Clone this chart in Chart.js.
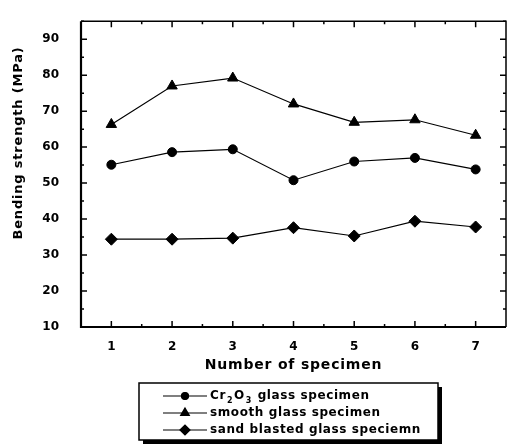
<!DOCTYPE html>
<html lang="en">
<head>
    <meta charset="UTF-8">
    <title>Bending strength</title>
    <script src="https://cdn.jsdelivr.net/npm/chart.js"></script>
    <style>
        body { margin: 0; background: #fff; }
    </style>
</head>
<body>
    <canvas id="myChart" width="513" height="445"></canvas>

    <script>
        const specimens = ['1', '2', '3', '4', '5', '6', '7'];
        const yTicks = [10, 20, 30, 40, 50, 60, 70, 80, 90];

        const cr2o3Values = [55.1, 58.6, 59.4, 50.8, 56.0, 57.0, 53.8];
        const smoothValues = [66.3, 77.0, 79.2, 72.0, 66.9, 67.6, 63.3];
        const sandValues = [34.4, 34.4, 34.7, 37.6, 35.3, 39.4, 37.8];

        const seriesNames = ['Cr₂O₃ glass specimen', 'smooth glass specimen', 'sand blasted glass speciemn'];
        const seriesStyles = ['circle', 'triangle', 'rectRot'];

        const font = 'DejaVu Sans';

        // text with subscript digits (₀-₉)
        function drawRichText(ctx, text, x, y, size) {
            let cx = x;
            for (const ch of text) {
                const code = ch.charCodeAt(0);
                if (code >= 0x2080 && code <= 0x2089) {
                    ctx.font = 'bold ' + Math.round(size * 0.7) + 'px "' + font + '"';
                    const d = String(code - 0x2080);
                    ctx.fillText(d, cx + 1, y + size * 0.4);
                    cx += ctx.measureText(d).width + 2.5;
                } else {
                    ctx.font = 'bold ' + size + 'px "' + font + '"';
                    ctx.fillText(ch, cx, y);
                    cx += ctx.measureText(ch).width + 0.6;
                }
            }
        }

        const framePlugin = {
            id: 'frame',
            afterDraw(chart) {
                const ctx = chart.ctx;
                const a = chart.chartArea;
                const xs = chart.scales.x;
                const ys = chart.scales.y;
                ctx.save();
                ctx.strokeStyle = '#000';

                // frame
                ctx.lineWidth = 1.5;
                ctx.beginPath();
                ctx.moveTo(a.left, a.top);
                ctx.lineTo(a.right, a.top);
                ctx.lineTo(a.right, a.bottom);
                ctx.stroke();
                ctx.lineWidth = 2.2;
                ctx.beginPath();
                ctx.moveTo(a.left, a.top);
                ctx.lineTo(a.left, a.bottom);
                ctx.lineTo(a.right, a.bottom);
                ctx.stroke();

                // inward ticks on all sides
                ctx.lineWidth = 1.5;
                ctx.beginPath();
                for (let i = 0; i < specimens.length; i++) {
                    const px = xs.getPixelForValue(i);
                    ctx.moveTo(px, a.bottom); ctx.lineTo(px, a.bottom - 6);
                    ctx.moveTo(px, a.top); ctx.lineTo(px, a.top + 6);
                    if (i < specimens.length - 1) {
                        const mx = xs.getPixelForValue(i + 0.5);
                        ctx.moveTo(mx, a.bottom); ctx.lineTo(mx, a.bottom - 3);
                        ctx.moveTo(mx, a.top); ctx.lineTo(mx, a.top + 3);
                    }
                }
                for (let v = 10; v <= 95; v += 5) {
                    const py = ys.getPixelForValue(v);
                    const len = v % 10 === 0 ? 6 : 3;
                    ctx.moveTo(a.left, py); ctx.lineTo(a.left + len, py);
                    ctx.moveTo(a.right, py); ctx.lineTo(a.right - len, py);
                }
                ctx.stroke();

                // axis titles
                ctx.fillStyle = '#000';
                ctx.textAlign = 'center';
                ctx.textBaseline = 'middle';
                ctx.letterSpacing = '0.8px';
                ctx.font = 'bold 13px "' + font + '"';
                ctx.save();
                ctx.translate(19, 143);
                ctx.rotate(-Math.PI / 2);
                ctx.fillText('Bending strength (MPa)', 0, 0);
                ctx.restore();
                ctx.letterSpacing = '0.8px';
                ctx.font = 'bold 14px "' + font + '"';
                ctx.fillText('Number of specimen', (a.left + a.right) / 2, 365);
                ctx.letterSpacing = '0px';

                // legend box
                const bx = 139, by = 383, bw = 299, bh = 57;
                ctx.fillRect(bx + 4, by + 4, bw, bh);
                ctx.fillStyle = '#fff';
                ctx.fillRect(bx, by, bw, bh);
                ctx.lineWidth = 1.5;
                ctx.strokeRect(bx, by, bw, bh);

                ctx.textAlign = 'left';
                ctx.fillStyle = '#000';
                chart.data.datasets.forEach((ds, i) => {
                    const ry = by + 13 + i * 17;
                    ctx.lineWidth = 1.2;
                    ctx.beginPath();
                    ctx.moveTo(163, ry);
                    ctx.lineTo(207, ry);
                    ctx.stroke();
                    Chart.helpers.drawPoint(ctx, {
                        pointStyle: ds.pointStyle,
                        radius: ds.pointRadius - 1,
                        borderWidth: 1
                    }, 185, ry);
                    ctx.fillStyle = '#000';
                    ctx.fill();
                    drawRichText(ctx, ds.label, 210, ry, 12);
                });
                ctx.restore();
            }
        };

        const ctx = document.getElementById('myChart').getContext('2d');
        const myChart = new Chart(ctx, {
            type: 'line',
            data: {
                labels: specimens,
                datasets: [
                    { label: seriesNames[0], data: cr2o3Values, pointStyle: seriesStyles[0], pointRadius: 4.5 },
                    { label: seriesNames[1], data: smoothValues, pointStyle: seriesStyles[1], pointRadius: 6 },
                    { label: seriesNames[2], data: sandValues, pointStyle: seriesStyles[2], pointRadius: 6 }
                ].map(ds => Object.assign(ds, {
                    borderColor: '#000',
                    borderWidth: 1.2,
                    backgroundColor: '#000',
                    pointBackgroundColor: '#000',
                    pointBorderColor: '#000',
                    pointBorderWidth: 1,
                    tension: 0
                }))
            },
            options: {
                responsive: false,
                devicePixelRatio: 1,
                animation: false,
                layout: { padding: { left: 0, right: 5, top: 10, bottom: 0 } },
                plugins: {
                    legend: { display: false },
                    tooltip: { enabled: false }
                },
                scales: {
                    x: {
                        type: 'category',
                        offset: true,
                        grid: { display: false },
                        border: { display: false },
                        ticks: {
                            color: '#000',
                            padding: 5,
                            font: { family: font, size: 12, weight: 'bold' }
                        },
                        afterFit(scale) { scale.height = 118; }
                    },
                    y: {
                        min: 10,
                        max: 95,
                        grid: { display: false },
                        border: { display: false },
                        ticks: {
                            color: '#000',
                            padding: 14,
                            font: { family: font, size: 12, weight: 'bold' }
                        },
                        afterBuildTicks(scale) {
                            scale.ticks = yTicks.map(v => ({ value: v }));
                        },
                        afterFit(scale) { scale.width = 81; }
                    }
                }
            },
            plugins: [framePlugin]
        });
    </script>
</body>
</html>
